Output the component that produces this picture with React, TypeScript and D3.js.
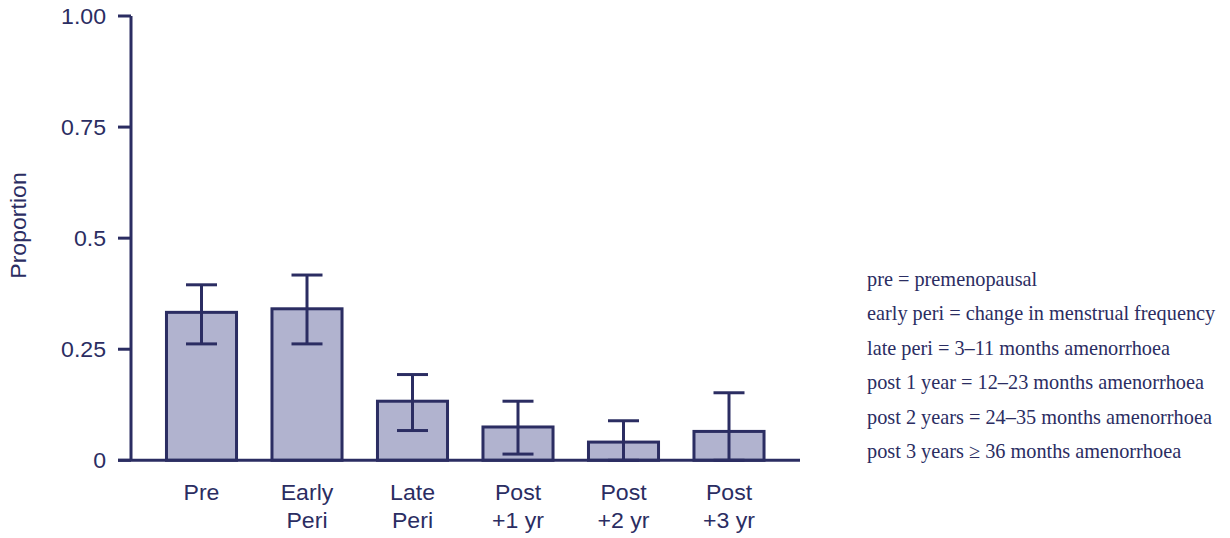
import React from "react";
import * as d3 from "d3";

// Stage of menopause vs. proportion, with 95% confidence intervals
const categories: string[][] = [
  ["Pre"],
  ["Early", "Peri"],
  ["Late", "Peri"],
  ["Post", "+1 yr"],
  ["Post", "+2 yr"],
  ["Post", "+3 yr"],
];
const proportions = [0.333, 0.341, 0.133, 0.075, 0.041, 0.065];
const ciLower = [0.262, 0.262, 0.067, 0.014, 0.0, 0.0];
const ciUpper = [0.395, 0.417, 0.193, 0.133, 0.089, 0.152];
const yTicks = [0, 0.25, 0.5, 0.75, 1.0];
const yTickLabels = ["0", "0.25", "0.5", "0.75", "1.00"];
const notes = [
  "pre = premenopausal",
  "early peri = change in menstrual frequency",
  "late peri = 3\u201311 months amenorrhoea",
  "post 1 year = 12\u201323 months amenorrhoea",
  "post 2 years = 24\u201335 months amenorrhoea",
  "post 3 years \u2265 36 months amenorrhoea",
];

const W = 1230;
const H = 538;
const INK = "#2b2d62";
const FILL = "#b1b3cf";
const SANS = "'Liberation Sans', Arial, sans-serif";
const SERIF = "'Liberation Serif', 'Times New Roman', serif";
const SANS_SIZE = 22;
const STRETCH = 1.05;

// Sans label drawn with a slight horizontal stretch
function Label(props: {
  x: number;
  y: number;
  anchor?: "start" | "middle" | "end";
  rotate?: number;
  dy?: string;
  children: React.ReactNode;
}) {
  const { x, y, anchor = "middle", rotate = 0, dy, children } = props;
  return (
    <g transform={`translate(${x},${y}) rotate(${rotate}) scale(${STRETCH},1)`}>
      <text
        textAnchor={anchor}
        dy={dy}
        fontFamily={SANS}
        fontSize={SANS_SIZE}
        fill={INK}
      >
        {children}
      </text>
    </g>
  );
}

export default function App() {
  const axisX = 131;
  const axisEnd = 800;
  const y = d3.scaleLinear().domain([0, 1]).range([460.3, 16]);
  const x = d3
    .scaleBand<number>()
    .domain(d3.range(categories.length))
    .range([148.75, 781.75])
    .paddingInner(0.336)
    .paddingOuter(0.168);
  const bw = x.bandwidth();
  const capW = 31;

  return (
    <svg
      width={W}
      height={H}
      style={{ position: "absolute", left: 0, top: 0, background: "#fff" }}
    >
      {/* bars */}
      {proportions.map((v, i) => (
        <rect
          key={"b" + i}
          x={x(i)!}
          y={y(v)}
          width={bw}
          height={y(0) - y(v)}
          fill={FILL}
          stroke={INK}
          strokeWidth={3}
        />
      ))}
      {/* error bars */}
      {proportions.map((_, i) => {
        const cx = x(i)! + bw / 2;
        return (
          <g key={"e" + i} stroke={INK} strokeWidth={3}>
            <line x1={cx} x2={cx} y1={y(ciUpper[i])} y2={y(ciLower[i])} />
            <line x1={cx - capW / 2} x2={cx + capW / 2} y1={y(ciUpper[i])} y2={y(ciUpper[i])} />
            <line x1={cx - capW / 2} x2={cx + capW / 2} y1={y(ciLower[i])} y2={y(ciLower[i])} />
          </g>
        );
      })}
      {/* axes */}
      <line x1={axisX} x2={axisX} y1={y(1)} y2={y(0)} stroke={INK} strokeWidth={3} />
      <line x1={118} x2={axisEnd} y1={y(0)} y2={y(0)} stroke={INK} strokeWidth={3} />
      {yTicks.map((t, i) => (
        <g key={"t" + i}>
          <line x1={118} x2={axisX} y1={y(t)} y2={y(t)} stroke={INK} strokeWidth={3} />
          <Label x={106} y={y(t)} anchor="end" dy="0.36em">
            {yTickLabels[i]}
          </Label>
        </g>
      ))}
      <Label x={25.5} y={225.5} rotate={-90}>
        Proportion
      </Label>
      {/* category labels */}
      {categories.map((lines, i) =>
        lines.map((l, j) => (
          <Label key={"c" + i + "-" + j} x={x(i)! + bw / 2} y={499.5 + j * 28}>
            {l}
          </Label>
        ))
      )}
      {/* stage definitions */}
      {notes.map((n, i) => (
        <text
          key={"n" + i}
          x={867}
          y={285.5 + i * 34.5}
          fontFamily={SERIF}
          fontSize={20.3}
          fill={INK}
        >
          {n}
        </text>
      ))}
    </svg>
  );
}
